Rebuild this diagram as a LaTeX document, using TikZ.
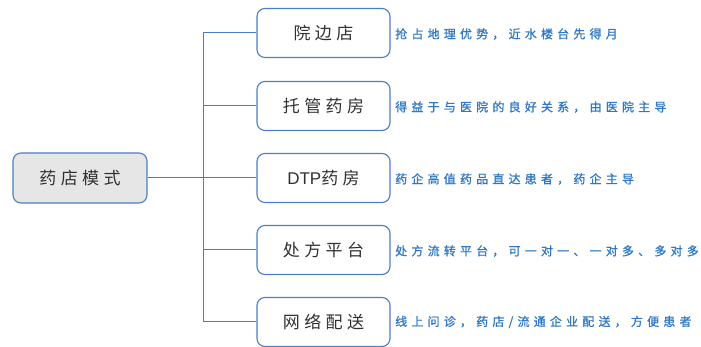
\documentclass[tikz,border=0pt]{standalone}
\usepackage{fontspec}
\setmainfont{Liberation Sans}
\newfontfamily\boxfont[LetterSpace=26]{Noto Sans CJK SC}
\newfontfamily\lblfont[LetterSpace=35,FakeBold=1]{Noto Sans CJK SC}
\newfontfamily\latfont{Liberation Sans}
\definecolor{edgeblue}{HTML}{4A7EC0}
\definecolor{lblblue}{HTML}{2F78C4}
\definecolor{rootfill}{HTML}{E6E6E6}
\definecolor{txtgray}{HTML}{303030}
\begin{document}
\begin{tikzpicture}[x=1pt,y=1pt,
  box/.style={draw=edgeblue,line width=1.1pt,rounded corners=8pt,minimum width=133pt,minimum height=49pt,inner sep=0pt,text=txtgray,font=\boxfont\fontsize{17}{19}\selectfont},
  rootbox/.style={box,fill=rootfill,minimum width=134pt,minimum height=50pt},
  lbl/.style={anchor=west,inner sep=0pt,text=lblblue,font=\lblfont\fontsize{12}{14}\selectfont},
  conn/.style={draw=edgeblue,line width=1pt}]
\useasboundingbox (0,0) rectangle (701,347);
\node[rootbox] (root) at (80,169) {药店模式};
\node[box] (c1) at (323.5,314) {院边店};
\node[box] (c2) at (323.5,241) {托管药房};
\node[box] (c3) at (323.5,169) {{\latfont DTP}药房};
\node[box] (c4) at (323.5,97) {处方平台};
\node[box] (c5) at (323.5,25) {网络配送};
\coordinate (j) at (203,169);
\draw[conn] (root.east) -- (j);
\draw[conn] (j) |- (c1.west);
\draw[conn] (j) |- (c2.west);
\draw[conn] (j) -- (c3.west);
\draw[conn] (j) |- (c4.west);
\draw[conn] (j) |- (c5.west);
\node[lbl] (l1) at (395,313) {抢占地理优势，近水楼台先得月};
\node[lbl] (l2) at (395,240) {得益于与医院的良好关系，由医院主导};
\node[lbl] (l3) at (395,168) {药企高值药品直达患者，药企主导};
\node[lbl] (l4) at (395,96) {处方流转平台，可一对一、一对多、多对多};
\node[lbl] (l5) at (395,25) {线上问诊，药店/流通企业配送，方便患者};
\end{tikzpicture}
\end{document}
